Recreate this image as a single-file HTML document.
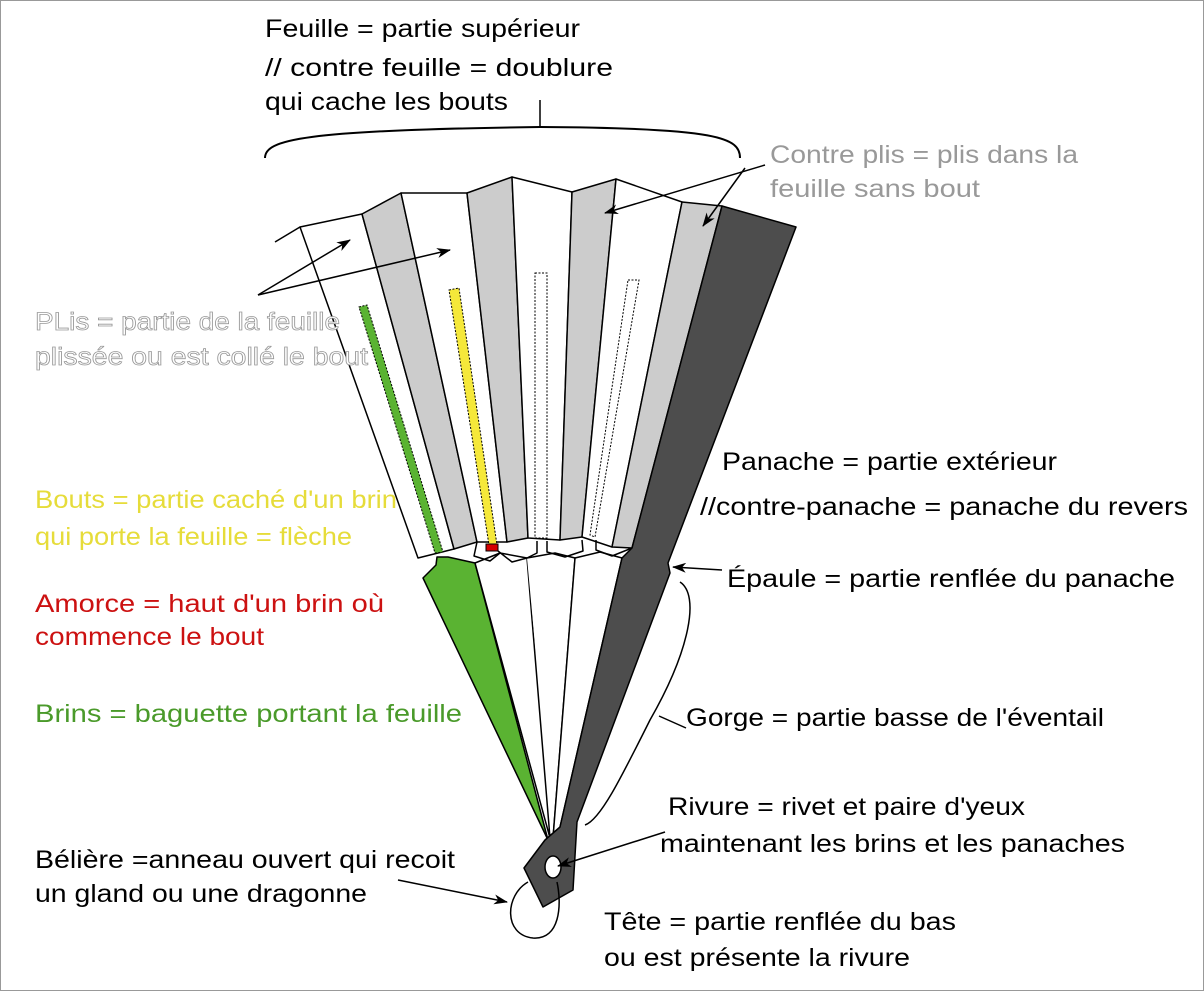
<!DOCTYPE html>
<html><head><meta charset="utf-8"><style>
html,body{margin:0;padding:0;background:#fff}
svg{display:block}
text{font-family:"Liberation Sans",sans-serif;font-size:25px}
</style></head><body>
<svg width="1204" height="991" viewBox="0 0 1204 991" xmlns="http://www.w3.org/2000/svg">
<defs><marker id="a" markerWidth="14" markerHeight="10" refX="13" refY="5" orient="auto" markerUnits="userSpaceOnUse"><path d="M0,0 L14,5 L0,10 L4,5 Z" fill="#000"/></marker></defs>
<rect x="0.5" y="0.5" width="1203" height="990" fill="#fff" stroke="#999"/>
<g stroke="#000" stroke-width="1.5" stroke-linejoin="round">
<!-- sticks lower -->
<path d="M475,563 L548,840 L423,578 L436,565 L437,557 L448,557 Z" fill="#5ab332"/>
<path d="M475,563 L500,553 L527,558 L550,838 Z" fill="#fff"/>
<path d="M527,558 L555,553 L575,558 L553,838" fill="#fff"/>
<path d="M575,558 L600,552 L622,558 L560,827 L553,838 Z" fill="#fff"/>
<!-- leaf panels -->
<path d="M300,227 L362,214 L454,549 L418,558 Z" fill="#fff"/>
<path d="M362,214 L401,193 L477,542 L454,549 Z" fill="#ccc"/>
<path d="M401,193 L467,193 L507,542 L477,542 Z" fill="#fff"/>
<path d="M467,193 L512,177 L528,538 L507,542 Z" fill="#ccc"/>
<path d="M512,177 L572,192 L560,540 L528,538 Z" fill="#fff"/>
<path d="M572,192 L616,179 L582,537 L560,540 Z" fill="#ccc"/>
<path d="M616,179 L682,202 L612,547 L582,537 Z" fill="#fff"/>
<path d="M682,202 L722,206 L632,548 L612,547 Z" fill="#ccc"/>
<line x1="275" y1="242" x2="300" y2="227"/>
<!-- hex connectors -->
<path d="M477,542 L474,556 L490,561 L500,553" fill="none"/>
<path d="M498,551 L512,562 L527,558 L537,553 L537,541" fill="none"/>
<path d="M547,541 L547,552 L565,557 L583,551 L582,540" fill="none"/>
<path d="M596,540 L596,550 L612,556 L632,548" fill="none"/>
<!-- panache -->
<path d="M722,206 L796,227 L668,563 L670,573 L577,822 L573,890 L543,907 L524,868 L545,840 L560,827 L622,558 L632,548 Z" fill="#4d4d4d"/>
<ellipse cx="553" cy="867" rx="8" ry="11" fill="#fff"/>
<path d="M528,882 C505,895 503,935 533,938 C560,940 562,905 557,882" fill="none"/>
</g>
<!-- stripes -->
<path d="M359,307 L367,305 L443,552 L435,553 Z" fill="#5ab332" stroke="#000" stroke-width="1" stroke-dasharray="2,1.5"/>
<path d="M449,290 L459,288 L497,545 L489,545 Z" fill="#f5e83a" stroke="#000" stroke-width="1" stroke-dasharray="2,1.5"/>
<rect x="486" y="544" width="12" height="7" fill="#d40000" stroke="#000"/>
<path d="M535,273 L547,273 L547,538 L535,538 Z" fill="none" stroke="#000" stroke-width="1" stroke-dasharray="2,1.5"/>
<path d="M628,280 L639,280 L595,537 L590,535 Z" fill="none" stroke="#000" stroke-width="1" stroke-dasharray="2,1.5"/>
<!-- brace -->
<path d="M265,158 C265,140 300,130 540,127 C720,128 740,138 740,158" fill="none" stroke="#000" stroke-width="2"/>
<line x1="540" y1="127" x2="540" y2="100" stroke="#000" stroke-width="1.5"/>
<!-- arrows -->
<g stroke="#000" stroke-width="1.5" fill="none">
<line x1="258" y1="295" x2="350" y2="240" marker-end="url(#a)"/>
<line x1="258" y1="295" x2="450" y2="250" marker-end="url(#a)"/>
<line x1="765" y1="165" x2="605" y2="213" marker-end="url(#a)"/>
<line x1="745" y1="168" x2="703" y2="226" marker-end="url(#a)"/>
<line x1="722" y1="570" x2="673" y2="567" marker-end="url(#a)"/>
<path d="M680,582 C700,595 690,650 650,720 C620,780 600,820 585,825"/>
<line x1="686" y1="728" x2="659" y2="716"/>
<line x1="665" y1="832" x2="558" y2="866" marker-end="url(#a)"/>
<line x1="398" y1="880" x2="507" y2="902" marker-end="url(#a)"/>
</g>
<!-- text -->
<text x="265" y="37" textLength="315" lengthAdjust="spacingAndGlyphs">Feuille = partie supérieur</text>
<text x="265" y="76" textLength="348" lengthAdjust="spacingAndGlyphs">// contre feuille = doublure</text>
<text x="265" y="110" textLength="243" lengthAdjust="spacingAndGlyphs">qui cache les bouts</text>
<g fill="#999">
<text x="770" y="163" textLength="308" lengthAdjust="spacingAndGlyphs">Contre plis = plis dans la</text>
<text x="770" y="197" textLength="210" lengthAdjust="spacingAndGlyphs">feuille sans bout</text>
</g>
<g fill="#fff" stroke="#999" stroke-width="0.8">
<text x="35" y="330" textLength="305" lengthAdjust="spacingAndGlyphs">PLis = partie de la feuille</text>
<text x="35" y="365" textLength="333" lengthAdjust="spacingAndGlyphs">plissée ou est collé le bout</text>
</g>
<text x="722" y="470" textLength="335" lengthAdjust="spacingAndGlyphs">Panache = partie extérieur</text>
<text x="700" y="515" textLength="488" lengthAdjust="spacingAndGlyphs">//contre-panache = panache du revers</text>
<g fill="#e6dc3a">
<text x="35" y="508" textLength="362" lengthAdjust="spacingAndGlyphs">Bouts = partie caché d'un brin</text>
<text x="35" y="545" textLength="317" lengthAdjust="spacingAndGlyphs">qui porte la feuille = flèche</text>
</g>
<g fill="#cc1111">
<text x="35" y="612" textLength="349" lengthAdjust="spacingAndGlyphs">Amorce = haut d'un brin  où</text>
<text x="35" y="645" textLength="229" lengthAdjust="spacingAndGlyphs">commence le bout</text>
</g>
<text x="727" y="587" textLength="448" lengthAdjust="spacingAndGlyphs">Épaule = partie renflée du panache</text>
<text x="35" y="722" fill="#4a9a2a" textLength="427" lengthAdjust="spacingAndGlyphs">Brins = baguette portant la feuille</text>
<text x="686" y="726" textLength="418" lengthAdjust="spacingAndGlyphs">Gorge = partie basse de l'éventail</text>
<text x="668" y="815" textLength="357" lengthAdjust="spacingAndGlyphs">Rivure = rivet et paire d'yeux</text>
<text x="660" y="852" textLength="465" lengthAdjust="spacingAndGlyphs">maintenant  les brins et les panaches</text>
<text x="35" y="868" textLength="420" lengthAdjust="spacingAndGlyphs">Bélière =anneau ouvert qui recoit</text>
<text x="35" y="902" textLength="332" lengthAdjust="spacingAndGlyphs">un gland ou une dragonne</text>
<text x="604" y="930" textLength="352" lengthAdjust="spacingAndGlyphs">Tête = partie renflée du bas</text>
<text x="604" y="966" textLength="306" lengthAdjust="spacingAndGlyphs">ou est présente la rivure</text>
</svg>
</body></html>
